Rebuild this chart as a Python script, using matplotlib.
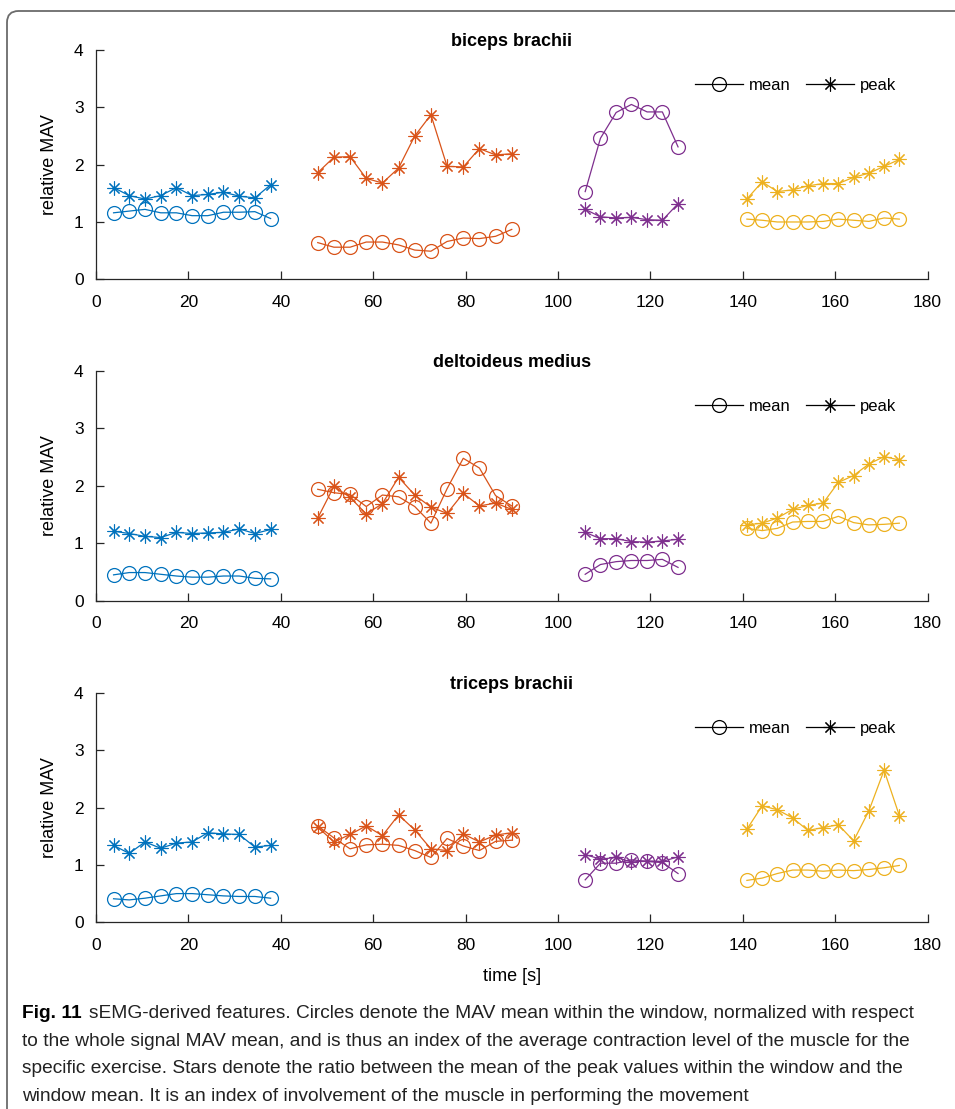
import matplotlib
matplotlib.use('Agg')
import matplotlib.pyplot as plt
from matplotlib.patches import FancyBboxPatch

plt.rcParams['font.family'] = ['Liberation Sans', 'DejaVu Sans']

# tempo (s) de cada janela, por exercício
t_azul = [3.8, 7.2, 10.6, 14.0, 17.4, 20.8, 24.2, 27.6, 31.0, 34.4, 37.8]
t_laranja = [48.0, 51.5, 55.0, 58.5, 62.0, 65.5, 69.0, 72.5, 76.0, 79.5, 83.0, 86.5, 90.0]
t_roxo = [105.9, 109.2, 112.6, 115.9, 119.3, 122.6, 126.0]
t_amarelo = [140.9, 144.2, 147.5, 150.8, 154.1, 157.4, 160.7, 164.0, 167.3, 170.6, 173.9]

# biceps brachii
bic_media = [
    [1.16, 1.19, 1.22, 1.16, 1.16, 1.11, 1.11, 1.17, 1.17, 1.18, 1.06],
    [0.64, 0.56, 0.56, 0.65, 0.65, 0.60, 0.51, 0.49, 0.66, 0.72, 0.71, 0.75, 0.87],
    [1.53, 2.46, 2.91, 3.05, 2.92, 2.92, 2.31],
    [1.05, 1.03, 1.00, 1.00, 1.00, 1.01, 1.05, 1.03, 1.01, 1.07, 1.05],
]
bic_pico = [
    [1.60, 1.46, 1.40, 1.46, 1.60, 1.46, 1.48, 1.52, 1.45, 1.42, 1.65],
    [1.86, 2.13, 2.14, 1.76, 1.68, 1.94, 2.50, 2.87, 1.97, 1.96, 2.28, 2.17, 2.19],
    [1.22, 1.09, 1.07, 1.08, 1.04, 1.03, 1.32],
    [1.40, 1.70, 1.53, 1.56, 1.63, 1.67, 1.67, 1.78, 1.85, 1.97, 2.09],
]

# deltoideus medius
del_media = [
    [0.45, 0.49, 0.49, 0.46, 0.43, 0.41, 0.41, 0.43, 0.43, 0.39, 0.38],
    [1.94, 1.88, 1.85, 1.64, 1.84, 1.81, 1.64, 1.35, 1.95, 2.48, 2.31, 1.83, 1.65],
    [0.46, 0.63, 0.68, 0.70, 0.70, 0.72, 0.58],
    [1.26, 1.22, 1.26, 1.37, 1.38, 1.38, 1.47, 1.36, 1.32, 1.33, 1.35],
]
del_pico = [
    [1.21, 1.17, 1.12, 1.10, 1.19, 1.17, 1.18, 1.19, 1.25, 1.17, 1.24],
    [1.44, 1.99, 1.80, 1.51, 1.69, 2.15, 1.84, 1.63, 1.52, 1.87, 1.65, 1.70, 1.59],
    [1.19, 1.08, 1.08, 1.03, 1.02, 1.04, 1.07],
    [1.32, 1.35, 1.44, 1.59, 1.66, 1.70, 2.06, 2.18, 2.38, 2.51, 2.45],
]

# triceps brachii
tri_media = [
    [0.41, 0.39, 0.42, 0.46, 0.50, 0.50, 0.48, 0.46, 0.45, 0.45, 0.42],
    [1.68, 1.47, 1.28, 1.35, 1.36, 1.34, 1.25, 1.13, 1.46, 1.33, 1.25, 1.41, 1.43],
    [0.74, 1.03, 1.03, 1.09, 1.06, 1.04, 0.85],
    [0.73, 0.77, 0.85, 0.91, 0.91, 0.89, 0.91, 0.90, 0.92, 0.95, 0.99],
]
tri_pico = [
    [1.34, 1.20, 1.40, 1.29, 1.38, 1.40, 1.56, 1.54, 1.53, 1.31, 1.34],
    [1.66, 1.40, 1.53, 1.68, 1.51, 1.87, 1.61, 1.28, 1.25, 1.54, 1.40, 1.52, 1.56],
    [1.18, 1.10, 1.13, 1.05, 1.07, 1.06, 1.14],
    [1.62, 2.03, 1.96, 1.82, 1.60, 1.65, 1.70, 1.42, 1.94, 2.65, 1.86],
]

musculos = ['biceps brachii', 'deltoideus medius', 'triceps brachii']
medias = [bic_media, del_media, tri_media]
picos = [bic_pico, del_pico, tri_pico]
tempos = [t_azul, t_laranja, t_roxo, t_amarelo]
cores = ['#0072BD', '#D95319', '#7E2F8E', '#EDB120']

asterisco = (8, 2, 0)
cor_eixo = '#262626'

W, H = 955, 1109
fig = plt.figure(figsize=(W / 100, H / 100), dpi=100)

# moldura cinza com canto arredondado
moldura = FancyBboxPatch(
    (7 / W, -0.05), 1.2, 1 - 11 / H + 0.05,
    boxstyle='round,pad=0,rounding_size=0.012',
    transform=fig.transFigure, facecolor='none', edgecolor='#6b6b6b',
    linewidth=1.3, mutation_aspect=W / H,
)
fig.patches.append(moldura)

esq = 96 / W
larg = 831.5 / W
topos = [50, 371, 692.7]
bases = [279.3, 600.7, 922.3]

for i, nome in enumerate(musculos):
    ax = fig.add_axes([esq, 1 - bases[i] / H, larg, (bases[i] - topos[i]) / H])
    for t, m, p, c in zip(tempos, medias[i], picos[i], cores):
        ax.plot(t, m, '-', color=c, lw=0.9, marker='o', ms=10,
                mfc='none', mec=c, mew=0.9)
        ax.plot(t, p, '-', color=c, lw=0.9, marker=asterisco, ms=10,
                mec=c, mew=0.8)
    ax.set_xlim(0, 180)
    ax.set_ylim(0, 4)
    ax.set_xticks(range(0, 181, 20))
    ax.set_yticks(range(0, 5))
    for lado in ['top', 'right']:
        ax.spines[lado].set_visible(False)
    for lado in ['left', 'bottom']:
        ax.spines[lado].set_color(cor_eixo)
        ax.spines[lado].set_linewidth(0.9)
    ax.tick_params(direction='in', length=6, width=0.9, color=cor_eixo,
                   labelsize=12.5, labelcolor='black')
    ax.tick_params(axis='x', pad=11)
    ax.tick_params(axis='y', pad=9)
    ax.set_ylabel('relative MAV', fontsize=13, labelpad=11)
    ax.set_title(nome, fontsize=13, fontweight='bold', pad=3)

    l1, = ax.plot([], [], '-', color='black', lw=0.9, marker='o', ms=10,
                  mfc='none', mec='black', mew=0.9)
    l2, = ax.plot([], [], '-', color='black', lw=0.9, marker=asterisco, ms=10,
                  mec='black', mew=0.8)
    ax.legend([l1, l2], ['mean', 'peak'], ncol=2, frameon=False,
              loc='center', bbox_to_anchor=(0.841, 0.845), fontsize=12,
              handlelength=2.9, handletextpad=0.35, columnspacing=0.9,
              borderpad=0, borderaxespad=0)
    if i == 2:
        ax.set_xlabel('time [s]', fontsize=13, labelpad=11)

# legenda da figura
linha1 = 'sEMG-derived features. Circles denote the MAV mean within the window, normalized with respect'
linhas = [
    'to the whole signal MAV mean, and is thus an index of the average contraction level of the muscle for the',
    'specific exercise. Stars denote the ratio between the mean of the peak values within the window and the',
    'window mean. It is an index of involvement of the muscle in performing the movement',
]
fonte_leg = ['Liberation Sans Narrow', 'Liberation Sans', 'DejaVu Sans']
tam_leg = 13.8
rotulo = fig.text(22 / W, 1 - 1013 / H, 'Fig. 11', fontsize=tam_leg,
                  fontweight='bold', family=fonte_leg, va='center', ha='left')
renderer = fig.canvas.get_renderer()
fim = rotulo.get_window_extent(renderer).x1
fig.text((fim + 7) / W, 1 - 1013 / H, linha1, fontsize=tam_leg,
         family=fonte_leg, va='center', ha='left', color='#222222')
for k, linha in enumerate(linhas):
    fig.text(22 / W, 1 - (1041 + 27.7 * k) / H, linha, fontsize=tam_leg,
             family=fonte_leg, va='center', ha='left', color='#222222')

fig.savefig('out.png', dpi=100)
